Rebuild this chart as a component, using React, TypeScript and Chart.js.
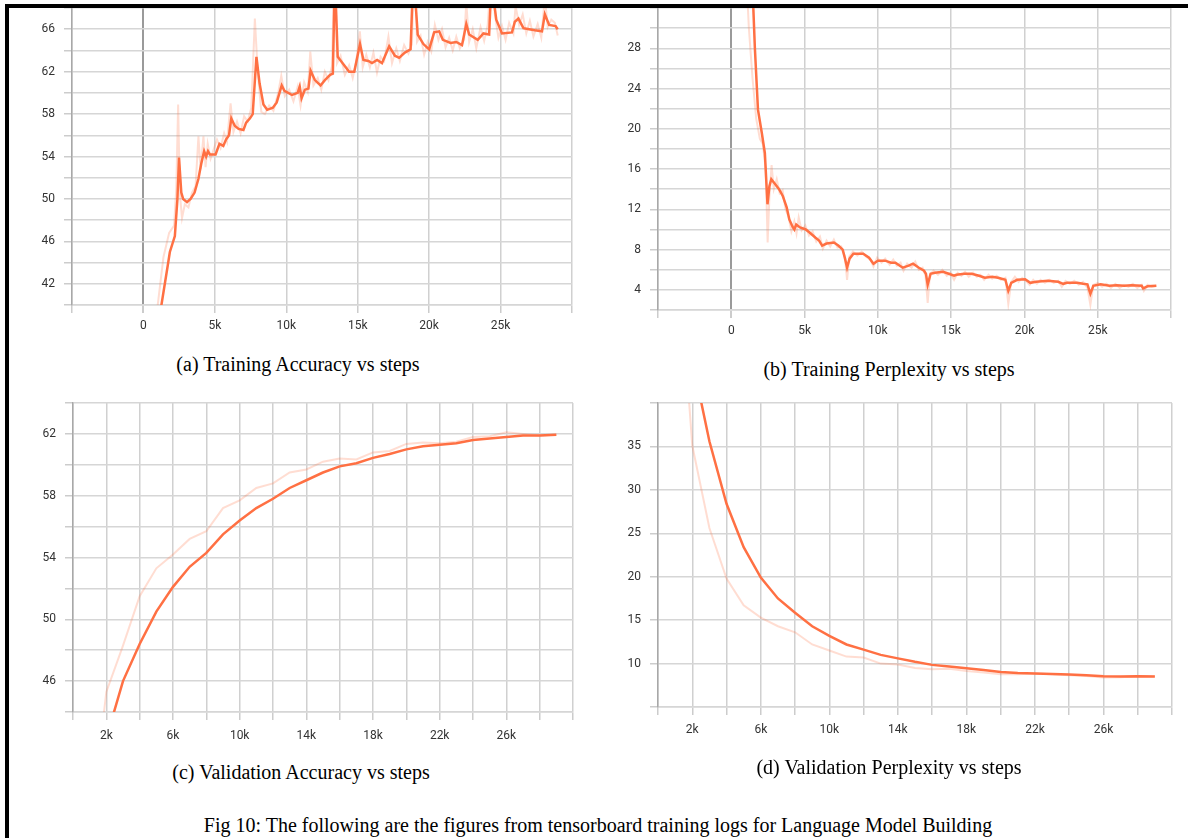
import React, { useEffect, useRef } from "react";
import { Chart, registerables } from "chart.js";

Chart.register(...registerables);

const ORANGE = "#ff7043";
const PALE = "rgba(255,112,67,0.24)";

// ---------- (a) Training accuracy ----------
const accSteps = [
  1200, 1700, 1850, 2200, 2380, 2490, 2650, 2780, 3050, 3300,
  3580, 3850, 4060, 4250, 4390, 4520, 4650, 5050, 5320, 5590,
  5780, 5990, 6150, 6390, 6660, 7000, 7190, 7460, 7650, 7910,
  8130, 8400, 8660, 9060, 9330, 9680, 9870, 10400, 10800, 10940,
  11070, 11300, 11550, 11700, 12000, 12400, 12700, 13070, 13260, 13400,
  13600, 14000, 14400, 14760, 15160, 15400, 15750, 16000, 16360, 16700,
  17200, 17600, 17900, 18300, 18700, 18900, 19200, 19600, 20000, 20350,
  20700, 20960, 21500, 21900, 22300, 22600, 22800, 23400, 23800, 24200,
  24360, 24700, 25100, 25800, 26000, 26250, 26600, 27000, 27400, 27900,
  28100, 28400, 28850, 29000,
];
const accSmooth = [
  39.5, 43.7, 45.0, 46.5, 50.0, 53.9, 50.6, 50.0, 49.7, 50.0,
  50.6, 51.9, 53.4, 54.5, 54.0, 54.5, 54.2, 54.2, 55.2, 55.0,
  55.6, 56.0, 57.6, 56.9, 56.6, 56.5, 57.2, 57.6, 58.0, 63.4,
  60.9, 58.9, 58.4, 58.6, 59.1, 60.7, 60.2, 59.8, 60.0, 60.6,
  59.5, 60.3, 60.4, 62.1, 61.2, 60.7, 61.2, 61.7, 61.8, 71.0,
  63.4, 62.7, 62.0, 62.0, 64.6, 63.1, 63.0, 62.8, 63.1, 62.8,
  64.4, 63.5, 63.3, 63.8, 64.1, 71.5, 65.5, 64.6, 64.1, 65.7,
  65.8, 65.0, 64.7, 64.8, 64.5, 66.5, 65.5, 65.0, 65.6, 65.5,
  70.5, 66.9, 65.6, 65.7, 66.7, 67.0, 66.1, 66.0, 65.9, 65.8,
  67.4, 66.4, 66.3, 66.0,
];
const accRawSteps = [
  1000, 1400, 1800, 2150, 2300, 2430, 2550, 2700, 2900, 3150,
  3400, 3650, 3850, 4000, 4200, 4350, 4500, 4700, 4900, 5150,
  5400, 5650, 5850, 6100, 6300, 6550, 6800, 7050, 7300, 7550,
  7800, 8000, 8250, 8500, 8800, 9100, 9450, 9650, 9900, 10200,
  10500, 10800, 11000, 11250, 11500, 11680, 11900, 12200, 12450, 12700,
  12950, 13200, 13400, 13550, 13800, 14100, 14400, 14650, 14900, 15150,
  15350, 15600, 15850, 16100, 16350, 16600, 16850, 17150, 17400, 17700,
  17950, 18250, 18550, 18800, 18950, 19150, 19400, 19650, 19900, 20150,
  20400, 20650, 20900, 21150, 21400, 21650, 21900, 22150, 22450, 22600,
  22800, 23050, 23300, 23600, 23850, 24100, 24380, 24600, 24850, 25100,
  25350, 25600, 25900, 26050, 26300, 26550, 26800, 27050, 27300, 27600,
  27850, 28100, 28300, 28550, 28800, 29000,
];
const accRaw = [
  40.0, 44.5, 46.8, 47.5, 51.0, 58.9, 50.5, 48.2, 49.5, 49.2,
  50.6, 51.2, 55.9, 52.8, 55.9, 53.0, 55.2, 53.8, 54.6, 55.6,
  54.8, 56.2, 55.4, 59.0, 56.3, 57.3, 56.2, 57.8, 57.3, 58.6,
  67.0, 62.0, 58.2, 58.0, 58.8, 58.3, 60.1, 61.6, 59.7, 60.3,
  59.2, 60.6, 58.8, 61.0, 60.1, 63.9, 60.7, 61.4, 60.3, 62.0,
  61.2, 62.5, 74.0, 62.8, 63.5, 61.7, 62.6, 61.4, 63.0, 65.8,
  62.4, 63.6, 62.4, 63.8, 61.9, 63.4, 63.0, 65.3, 62.8, 64.2,
  63.0, 64.5, 63.7, 64.6, 73.0, 64.8, 65.4, 63.6, 64.8, 63.9,
  66.4, 65.0, 66.0, 64.3, 65.2, 64.0, 65.3, 64.2, 65.0, 68.5,
  64.8, 66.0, 64.2, 66.2, 64.9, 66.4, 72.0, 67.4, 65.2, 66.3,
  65.0, 66.6, 65.6, 68.2, 66.4, 67.4, 65.6, 66.8, 65.3, 66.5,
  65.2, 69.0, 66.2, 66.9, 66.6, 65.4,
];

// ---------- (b) Training perplexity ----------
const perpSteps = [
  1450, 1610, 1820, 2080, 2290, 2470, 2600, 2730, 3000, 3260,
  3520, 3780, 3960, 4170, 4300, 4430, 4690, 5080, 5340, 5730,
  5990, 6200, 6500, 7000, 7300, 7600, 7760, 7900, 8070, 8330,
  9000, 9400, 9700, 10000, 10500, 10900, 11200, 11500, 11700, 12100,
  12400, 12800, 13150, 13280, 13400, 13600, 13900, 14450, 14840, 15200,
  15360, 15900, 16400, 16900, 17300, 17800, 18200, 18700, 18900, 19100,
  19500, 20050, 20400, 20800, 21600, 22300, 22650, 22900, 23600, 24000,
  24300, 24500, 24700, 25200, 25800, 26300, 26800, 27300, 28000, 28100,
  28400, 29000,
];
const perpSmooth = [
  34.0, 28.0, 21.9, 19.6, 17.6, 12.5, 14.3, 15.0, 14.5, 14.0,
  13.3, 12.2, 11.0, 10.3, 10.0, 10.5, 10.2, 10.0, 9.7, 9.2,
  8.9, 8.4, 8.6, 8.7, 8.4, 8.0, 7.1, 6.2, 7.1, 7.6,
  7.6, 7.2, 6.6, 6.9, 6.9, 6.7, 6.7, 6.4, 6.2, 6.4,
  6.6, 6.2, 5.9, 5.6, 4.5, 5.6, 5.7, 5.8, 5.6, 5.4,
  5.5, 5.6, 5.6, 5.4, 5.2, 5.3, 5.2, 5.0, 3.9, 4.7,
  5.0, 5.05, 4.7, 4.8, 4.9, 4.8, 4.6, 4.7, 4.7, 4.6,
  4.55, 3.6, 4.4, 4.55, 4.4, 4.45, 4.4, 4.45, 4.4, 4.15,
  4.35, 4.4,
];
const perpRawSteps = [
  1000, 1200, 1450, 1700, 1950, 2150, 2350, 2480, 2600, 2750,
  2900, 3100, 3300, 3500, 3700, 3900, 4100, 4300, 4450, 4600,
  4800, 5050, 5300, 5550, 5800, 6050, 6250, 6500, 6750, 7000,
  7250, 7500, 7750, 7900, 8050, 8300, 8600, 8900, 9200, 9500,
  9700, 9950, 10250, 10500, 10800, 11050, 11300, 11550, 11750, 12000,
  12300, 12550, 12800, 13050, 13250, 13400, 13550, 13800, 14100, 14400,
  14700, 14950, 15200, 15450, 15700, 15950, 16200, 16500, 16750, 17000,
  17250, 17550, 17800, 18100, 18400, 18700, 18900, 19100, 19350, 19600,
  19850, 20100, 20350, 20600, 20850, 21100, 21400, 21700, 22000, 22300,
  22550, 22800, 23100, 23400, 23700, 24000, 24300, 24500, 24700, 25000,
  25300, 25600, 25900, 26200, 26500, 26800, 27100, 27400, 27700, 28000,
  28150, 28400, 28700, 29000,
];
const perpRaw = [
  36.0, 30.0, 25.0, 21.0, 19.0, 18.5, 16.0, 8.7, 13.2, 16.4,
  14.0, 15.0, 13.6, 13.9, 12.0, 11.3, 9.8, 10.8, 9.6, 11.2,
  9.9, 10.4, 9.4, 9.8, 8.8, 9.3, 8.1, 8.9, 8.3, 9.0,
  8.2, 8.3, 7.3, 5.0, 7.3, 7.8, 7.4, 7.8, 7.3, 7.0,
  6.3, 7.2, 6.7, 7.1, 6.5, 7.0, 6.4, 6.7, 5.9, 6.6,
  6.2, 6.8, 6.0, 6.2, 5.4, 2.7, 5.5, 5.9, 5.5, 6.0,
  5.4, 5.7, 5.0, 5.7, 5.4, 5.8, 5.3, 5.7, 5.3, 5.5,
  5.0, 5.5, 5.1, 5.4, 5.0, 5.2, 2.6, 4.8, 5.3, 4.8,
  5.2, 4.9, 4.5, 5.0, 4.6, 5.0, 4.7, 5.0, 4.7, 4.9,
  4.3, 4.9, 4.6, 4.9, 4.5, 4.8, 4.2, 2.5, 4.5, 4.7,
  4.3, 4.6, 4.2, 4.6, 4.2, 4.5, 4.3, 4.6, 4.2, 4.5,
  3.9, 4.5, 4.3, 4.4,
];

// ---------- (c) / (d) Validation ----------
const valSteps = [
  1000, 2000, 3000, 4000, 5000, 6000, 7000, 8000, 9000, 10000,
  11000, 12000, 13000, 14000, 15000, 16000, 17000, 18000, 19000, 20000,
  21000, 22000, 23000, 24000, 25000, 26000, 27000, 28000, 29000,
];
const valAccSmooth = [
  36.0, 42.3, 46.0, 48.4, 50.5, 52.1, 53.4, 54.3, 55.5, 56.4,
  57.2, 57.8, 58.5, 59.0, 59.5, 59.9, 60.1, 60.45, 60.7, 61.0,
  61.2, 61.3, 61.4, 61.6, 61.7, 61.8, 61.9, 61.9, 61.95,
];
const valAccRaw = [
  36.0, 45.3, 48.3, 51.5, 53.3, 54.2, 55.2, 55.7, 57.2, 57.7,
  58.5, 58.8, 59.5, 59.7, 60.2, 60.4, 60.35, 60.8, 60.9, 61.35,
  61.45, 61.4, 61.5, 61.8, 61.85, 62.1, 62.0, 61.9, 61.95,
];
const valPerpSmooth = [
  62.3, 45.0, 35.6, 28.4, 23.4, 19.9, 17.5, 15.85, 14.3, 13.2,
  12.2, 11.6, 11.0, 10.6, 10.2, 9.85, 9.65, 9.46, 9.27, 9.04,
  8.92, 8.85, 8.8, 8.73, 8.65, 8.54, 8.5, 8.54, 8.5,
];
const valPerpRaw = [
  62.3, 35.1, 25.6, 19.8, 16.7, 15.3, 14.3, 13.6, 12.2, 11.5,
  10.8, 10.7, 10.0, 9.9, 9.5, 9.35, 9.4, 9.15, 8.96, 8.77,
  8.77, 8.85, 8.77, 8.65, 8.58, 8.4, 8.42, 8.54, 8.5,
];

// ---------- tick labels ----------
const trainXLabels = [0, 5000, 10000, 15000, 20000, 25000];
const valXLabels = [2000, 6000, 10000, 14000, 18000, 22000, 26000];
const accYLabels = [42, 46, 50, 54, 58, 62, 66];
const perpYLabels = [4, 8, 12, 16, 20, 24, 28];
const valAccYLabels = [46, 50, 54, 58, 62];
const valPerpYLabels = [10, 15, 20, 25, 30, 35];

const pts = (xs: number[], ys: number[]) => xs.map((x, i) => ({ x, y: ys[i] }));
const fmtK = (v: number) => (v === 0 ? "0" : `${v / 1000}k`);

type PanelProps = {
  left: number; top: number; width: number; height: number;
  areaLeft: number; areaTop: number; areaRight: number; areaBottom: number;
  xMin: number; xMax: number; xStep: number; xLabels: number[];
  yMin: number; yMax: number; yStep: number; yLabels: number[];
  rawX: number[]; rawY: number[]; smoothX: number[]; smoothY: number[];
  zeroLine: boolean; xPad: number;
};

function Panel(p: PanelProps) {
  const ref = useRef<HTMLCanvasElement>(null);
  useEffect(() => {
    const tickFont = { family: "Roboto", size: 12 };
    const chart = new Chart(ref.current as HTMLCanvasElement, {
      type: "line",
      data: {
        datasets: [
          { data: pts(p.rawX, p.rawY), borderColor: PALE, borderWidth: 2, pointRadius: 0, tension: 0 },
          { data: pts(p.smoothX, p.smoothY), borderColor: ORANGE, borderWidth: 2.5, pointRadius: 0, tension: 0 },
        ],
      },
      options: {
        animation: false,
        responsive: false,
        maintainAspectRatio: false,
        events: [],
        layout: { padding: { left: 0, top: p.areaTop, right: p.width - p.areaRight, bottom: 0 } },
        plugins: { legend: { display: false }, tooltip: { enabled: false } },
        scales: {
          x: {
            type: "linear",
            min: p.xMin,
            max: p.xMax,
            afterFit: (s: any) => {
              s.height = p.height - p.areaBottom;
              s.paddingLeft = 0;
              s.paddingRight = 0;
            },
            grid: {
              color: (c: any) => (p.zeroLine && c.tick && c.tick.value === 0 ? "#9a9a9a" : "#d0d0d0"),
              lineWidth: (c: any) => (p.zeroLine && c.tick && c.tick.value === 0 ? 2 : 1.5),
              tickLength: 8,
              tickColor: "#cccccc",
            },
            border: { color: "#d6d6d6", width: 1.5 },
            ticks: {
              stepSize: p.xStep,
              autoSkip: false,
              maxRotation: 0,
              padding: p.xPad,
              color: "#333",
              font: tickFont,
              callback: (v: any) => (p.xLabels.includes(Number(v)) ? fmtK(Number(v)) : ""),
            },
          },
          y: {
            type: "linear",
            min: p.yMin,
            max: p.yMax,
            afterFit: (s: any) => {
              s.width = p.areaLeft;
              s.paddingTop = 0;
              s.paddingBottom = 0;
            },
            grid: { color: "#d6d6d6", lineWidth: 1.5, tickLength: 8, tickColor: "#cccccc" },
            border: { color: "#a8a8a8", width: 1.5 },
            ticks: {
              stepSize: p.yStep,
              autoSkip: false,
              padding: 9,
              color: "#333",
              font: tickFont,
              callback: (v: any) => (p.yLabels.includes(Number(v)) ? String(v) : ""),
            },
          },
        },
      },
    } as any);
    return () => chart.destroy();
  }, []);
  return (
    <canvas
      ref={ref}
      width={p.width}
      height={p.height}
      style={{ position: "absolute", left: p.left, top: p.top, width: p.width, height: p.height }}
    />
  );
}

const serif = '"Liberation Serif", "Times New Roman", serif';

function Caption({ cx, cy, w, text }: { cx: number; cy: number; w: number; text: string }) {
  return (
    <div
      style={{
        position: "absolute",
        left: cx - w / 2,
        top: cy - 12,
        width: w,
        textAlign: "center",
        fontFamily: serif,
        fontSize: 20,
        lineHeight: "24px",
        color: "#000",
        whiteSpace: "nowrap",
      }}
    >
      {text}
    </div>
  );
}

export default function App() {
  return (
    <div
      style={{
        position: "absolute",
        left: 0,
        top: 0,
        width: 1188,
        height: 838,
        background: "#fff",
        overflow: "hidden",
      }}
    >
      <Panel
        left={0} top={0} width={590} height={340}
        areaLeft={72} areaTop={8} areaRight={572} areaBottom={305}
        xMin={-5000} xMax={30000} xStep={5000} xLabels={trainXLabels}
        yMin={40} yMax={68} yStep={2} yLabels={accYLabels}
        rawX={accRawSteps} rawY={accRaw} smoothX={accSteps} smoothY={accSmooth}
        zeroLine={true} xPad={6}
      />
      <Panel
        left={590} top={0} width={598} height={345}
        areaLeft={68} areaTop={8} areaRight={581} areaBottom={310}
        xMin={-5000} xMax={30000} xStep={5000} xLabels={trainXLabels}
        yMin={2} yMax={32} yStep={2} yLabels={perpYLabels}
        rawX={perpRawSteps} rawY={perpRaw} smoothX={perpSteps} smoothY={perpSmooth}
        zeroLine={true} xPad={6}
      />
      <Panel
        left={0} top={390} width={590} height={370}
        areaLeft={73} areaTop={13} areaRight={573} areaBottom={322}
        xMin={0} xMax={30000} xStep={2000} xLabels={valXLabels}
        yMin={44} yMax={64} yStep={2} yLabels={valAccYLabels}
        rawX={valSteps} rawY={valAccRaw} smoothX={valSteps} smoothY={valAccSmooth}
        zeroLine={false} xPad={9}
      />
      <Panel
        left={590} top={390} width={598} height={370}
        areaLeft={68} areaTop={13} areaRight={582} areaBottom={317}
        xMin={0} xMax={30000} xStep={2000} xLabels={valXLabels}
        yMin={5} yMax={40} yStep={5} yLabels={valPerpYLabels}
        rawX={valSteps} rawY={valPerpRaw} smoothX={valSteps} smoothY={valPerpSmooth}
        zeroLine={false} xPad={8}
      />

      <Caption cx={298} cy={364} w={400} text="(a) Training Accuracy vs steps" />
      <Caption cx={889} cy={369} w={400} text="(b) Training Perplexity vs steps" />
      <Caption cx={301} cy={772} w={400} text="(c) Validation Accuracy vs steps" />
      <Caption cx={889} cy={767} w={400} text="(d) Validation Perplexity vs steps" />
      <Caption
        cx={598}
        cy={825}
        w={1000}
        text="Fig 10: The following are the figures from tensorboard training logs for Language Model Building"
      />

      <div style={{ position: "absolute", left: 5, top: 4, width: 1183, height: 4, background: "#000" }} />
      <div style={{ position: "absolute", left: 5, top: 4, width: 4, height: 834, background: "#000" }} />
    </div>
  );
}
